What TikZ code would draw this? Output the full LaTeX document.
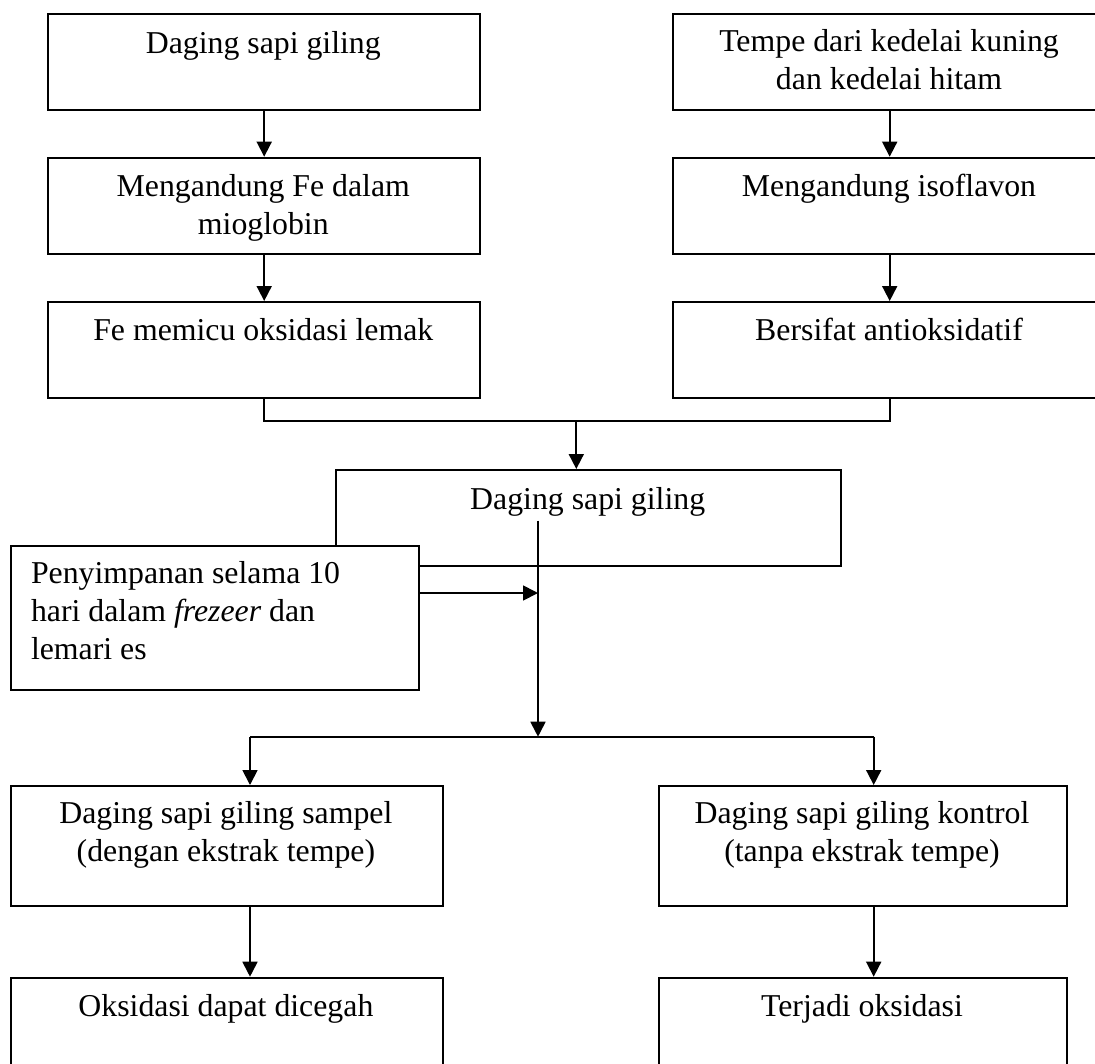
\documentclass[tikz,border=0pt]{standalone}
\usepackage{fontspec}
\setmainfont{Liberation Serif}
\usetikzlibrary{arrows.meta}
\begin{document}
\begin{tikzpicture}[x=1pt,y=-1pt,
  box/.style={draw, line width=1.8pt, fill=white, inner sep=0pt, anchor=north west},
  txt/.style={inner sep=0pt, anchor=base, align=center, font=\fontsize{31.8}{38}\selectfont},
  arr/.style={line width=1.8pt, -{Triangle[length=15pt,width=15pt]}},
  ln/.style={line width=1.8pt}
]
\useasboundingbox (0,0) rectangle (1095,1063);
\fill[white] (0,0) rectangle (1095,1063);
\clip (0,0) rectangle (1095,1063);

% left column
\node[box, minimum width=432pt, minimum height=96pt] (b1) at (47.3,12.7) {};
\node[box, minimum width=432pt, minimum height=96pt] (b2) at (47.3,156.7) {};
\node[box, minimum width=432pt, minimum height=96pt] (b3) at (47.3,301) {};
% right column
\node[box, minimum width=434pt, minimum height=96pt] (b4) at (671.8,12.7) {};
\node[box, minimum width=434pt, minimum height=96pt] (b5) at (671.8,156.7) {};
\node[box, minimum width=434pt, minimum height=96pt] (b6) at (671.8,301) {};
% middle
\node[box, minimum width=504.7pt, minimum height=96pt] (b7) at (335.3,469) {};
\node[box, minimum width=408.2pt, minimum height=143.7pt] (b8) at (9.8,545) {};
% bottom
\node[box, minimum width=432.2pt, minimum height=120pt] (b9) at (9.8,785) {};
\node[box, minimum width=408.2pt, minimum height=120pt] (b10) at (657.8,785) {};
\node[box, minimum width=432.2pt, minimum height=120pt] (b11) at (9.8,976.7) {};
\node[box, minimum width=408.2pt, minimum height=120pt] (b12) at (657.8,976.7) {};

% texts (anchor base = baseline of the last line)
\node[txt] (t1) at (263.3,53.3) {Daging sapi giling};
\node[txt] (t2) at (263.3,234) {Mengandung Fe dalam\\mioglobin};
\node[txt] (t3) at (263.3,340.5) {Fe memicu oksidasi lemak};
\node[txt] (t4) at (889,89.5) {Tempe dari kedelai kuning\\dan kedelai hitam};
\node[txt] (t5) at (889,196) {Mengandung isoflavon};
\node[txt] (t6) at (889,340.5) {Bersifat antioksidatif};
\node[txt] (t7) at (587.7,509.3) {Daging sapi giling};
\node[txt, anchor=base west, align=left] (t8) at (30.8,659) {Penyimpanan selama 10\\hari dalam \textit{frezeer} dan\\lemari es};
\node[txt] (t9) at (225.9,861.5) {Daging sapi giling sampel\\(dengan ekstrak tempe)};
\node[txt] (t10) at (862,861.5) {Daging sapi giling kontrol\\(tanpa ekstrak tempe)};
\node[txt] (t11) at (225.9,1016.7) {Oksidasi dapat dicegah};
\node[txt] (t12) at (862,1016.7) {Terjadi oksidasi};

% connector coordinates
\coordinate (j1) at (576.3,420.7);
\coordinate (vtop) at (538,520.7);
\coordinate (split) at (538,736.7);
\coordinate (bl) at (250,736.7);
\coordinate (br) at (873.7,736.7);
\coordinate (h8) at (0,593);

% connectors
\draw[arr] (b1.south) -- (b2.north);
\draw[arr] (b2.south) -- (b3.north);
\draw[arr] (b4.south) -- (b5.north);
\draw[arr] (b5.south) -- (b6.north);
\draw[ln] (b3.south) |- (j1) -| (b6.south);
\draw[arr] (j1) -- (j1 |- b7.north);
\draw[arr] (vtop) -- (split);
\draw[arr] (b8.east |- h8) -- (vtop |- h8);
\draw[ln] (bl) -- (br);
\draw[arr] (bl) -- (bl |- b9.north);
\draw[arr] (br) -- (br |- b10.north);
\draw[arr] (b9.south -| bl) -- (b11.north -| bl);
\draw[arr] (b10.south -| br) -- (b12.north -| br);
\end{tikzpicture}
\end{document}
